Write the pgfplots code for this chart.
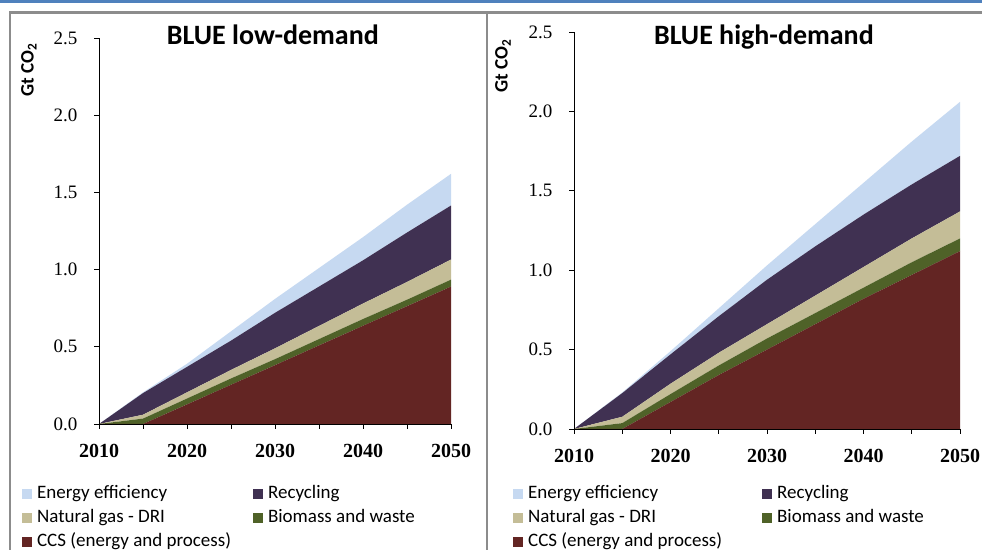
\documentclass[border=0pt]{standalone}
\usepackage{pgfplots}
\pgfplotsset{compat=1.18}
\usepackage{pgfplotstable}
\usepackage{fontspec}
\setmainfont{Carlito}
\newfontfamily\tickfont{Liberation Serif}

\definecolor{eecol}{HTML}{C6D9F1}
\definecolor{reccol}{HTML}{403152}
\definecolor{ngcol}{HTML}{C4BD97}
\definecolor{biocol}{HTML}{4F6228}
\definecolor{ccscol}{HTML}{632523}
\definecolor{framegray}{HTML}{8C8C8C}
\definecolor{topblue}{HTML}{4F81BD}

% layers, bottom to top
\pgfplotstableread{
year ccs   bio   ng    rec   ee
2010 0     0     0     0     0
2015 0     0.035 0.025 0.14  0.005
2020 0.127 0.038 0.04  0.165 0.02
2025 0.254 0.041 0.055 0.19  0.06
2030 0.381 0.039 0.07  0.23  0.09
2035 0.509 0.041 0.085 0.255 0.12
2040 0.636 0.044 0.10  0.28  0.15
2045 0.763 0.042 0.115 0.32  0.18
2050 0.89  0.045 0.13  0.35  0.205
}\lowdemand

\pgfplotstableread{
year ccs   bio   ng    rec   ee
2010 0     0     0     0     0
2015 0     0.037 0.04  0.149 0.004
2020 0.17  0.05  0.065 0.185 0.02
2025 0.34  0.06  0.08  0.23  0.05
2030 0.50  0.07  0.09  0.28  0.09
2035 0.66  0.07  0.11  0.31  0.14
2040 0.82  0.07  0.13  0.33  0.20
2045 0.97  0.08  0.15  0.34  0.27
2050 1.12  0.08  0.17  0.35  0.34
}\highdemand

\pgfplotsset{
  bluepanel/.style={
    scale only axis,
    anchor=south west,
    xmin=2010, xmax=2050, ymin=0, ymax=2.5,
    enlargelimits=false,
    stack plots=y,
    axis x line=bottom, axis y line=left,
    axis line style={-, black, line width=0.8bp},
    tick align=outside,
    major tick length=5bp, minor tick length=5bp,
    tick style={black, line width=0.8bp},
    xtick={2010,2020,2030,2040,2050},
    minor xtick={2015,2025,2035,2045},
    ytick={0,0.5,1,1.5,2,2.5},
    /pgf/number format/assume math mode=true,
    xticklabel style={font=\tickfont\bfseries\fontsize{20bp}{20bp}\selectfont,
      /pgf/number format/1000 sep={}, yshift=-12bp},
    yticklabel style={font=\tickfont\fontsize{19bp}{19bp}\selectfont,
      /pgf/number format/fixed, /pgf/number format/fixed zerofill,
      /pgf/number format/precision=1, xshift=-13bp},
    title style={font=\bfseries\fontsize{28bp}{28bp}\selectfont, anchor=center},
    ylabel style={font=\bfseries\fontsize{19bp}{19bp}\selectfont, anchor=center},
    legend columns=2,
    legend cell align=left,
    legend style={draw=none, fill=none, inner sep=0pt, anchor=north west,
      font=\fontsize{19bp}{19bp}\selectfont, row sep=5bp,
      nodes={inner sep=0pt, text height=14bp, text depth=5bp},
      /tikz/column 1/.style={column sep=5bp},
      /tikz/column 3/.style={column sep=5bp}},
    legend image code/.code={\fill[##1] (0bp,-5bp) rectangle (10bp,5bp);},
    axis on top,
  },
}

\newcommand{\stackareas}[1]{%
  \addplot[draw=none, fill=ccscol, forget plot] table[x=year, y=ccs] {#1} \closedcycle;
  \addplot[draw=none, fill=biocol, forget plot] table[x=year, y=bio] {#1} \closedcycle;
  \addplot[draw=none, fill=ngcol, forget plot] table[x=year, y=ng] {#1} \closedcycle;
  \addplot[draw=none, fill=reccol, forget plot] table[x=year, y=rec] {#1} \closedcycle;
  \addplot[draw=none, fill=eecol, forget plot] table[x=year, y=ee] {#1} \closedcycle;
  \addlegendimage{fill=eecol, draw=none}\addlegendentry{Energy efficiency}
  \addlegendimage{fill=reccol, draw=none}\addlegendentry{Recycling}
  \addlegendimage{fill=ngcol, draw=none}\addlegendentry{Natural gas - DRI}
  \addlegendimage{fill=biocol, draw=none}\addlegendentry{Biomass and waste}
  \addlegendimage{fill=ccscol, draw=none}\addlegendentry{CCS (energy and process)}
}

\begin{document}
\begin{tikzpicture}[x=1bp, y=1bp]
\useasboundingbox (0,0) rectangle (982,550);
\fill[white] (0,0) rectangle (982,550);
\draw[line width=3bp, topblue] (0,548.5) -- (982,548.5);
\draw[line width=2.5bp, framegray] (10,0) -- (10,537.5) -- (982,537.5);
\draw[line width=2.5bp, framegray] (487,0) -- (487,537.5);

\begin{axis}[bluepanel,
  at={(99bp,126bp)}, width=352bp, height=386bp,
  title={BLUE low-demand},
  title style={at={(axis description cs:0.494,0.992)}},
  ylabel={Gt CO\textsubscript{2}},
  ylabel style={at={(axis description cs:-0.199,0.917)}},
  legend style={at={(axis description cs:-0.219,-0.155)},
    /tikz/column 2/.style={column sep=22bp}},
]
\stackareas{\lowdemand}
\end{axis}

\begin{axis}[bluepanel,
  at={(574bp,121bp)}, width=386bp, height=397bp,
  title={BLUE high-demand},
  title style={at={(axis description cs:0.492,0.972)}},
  ylabel={Gt CO\textsubscript{2}},
  ylabel style={at={(axis description cs:-0.184,0.914)}},
  legend style={at={(axis description cs:-0.158,-0.1385)},
    /tikz/column 2/.style={column sep=40bp}},
]
\stackareas{\highdemand}
\end{axis}
\end{tikzpicture}
\end{document}
